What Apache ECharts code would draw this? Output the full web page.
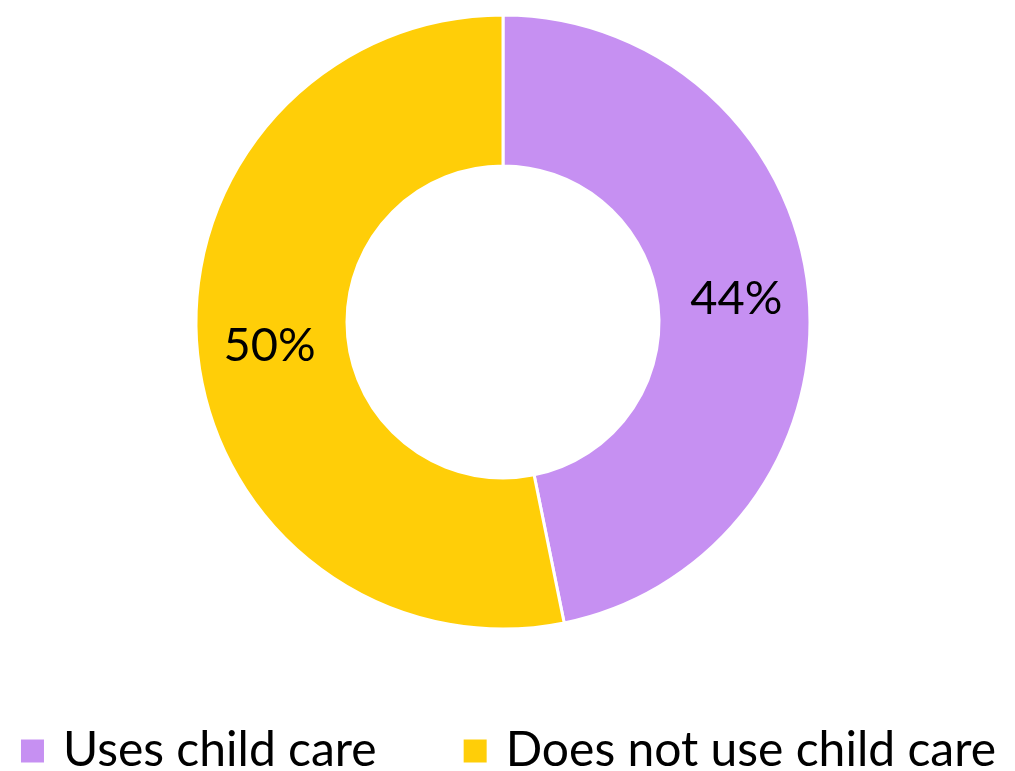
<!DOCTYPE html>
<html>
<head>
<meta charset="utf-8">
<script src="https://cdn.jsdelivr.net/npm/echarts@6/dist/echarts.min.js"></script>
<style>
  html, body { margin: 0; padding: 0; background: #fff; }
  #chart { width: 1015px; height: 771px; }
</style>
</head>
<body>
<div id="chart"></div>
<script>
// Share of respondents by child care use (percent)
const categories = ['Uses child care', 'Does not use child care'];
const shares = [44, 50];
const colors = ['#C690F2', '#FFCE08'];

const chart = echarts.init(document.getElementById('chart'));
chart.setOption({
  animation: false,
  color: colors,
  legend: {
    top: 722,
    left: 'center',
    itemWidth: 25,
    itemHeight: 25,
    itemGap: 85,
    icon: 'rect',
    textStyle: {
      fontFamily: 'Lato',
      fontSize: 48,
      lineHeight: 48,
      color: '#000',
      padding: [0, 0, 0, 13]
    },
    data: categories
  },
  series: [{
    type: 'pie',
    center: [503, 322],
    radius: [156, 307],
    startAngle: 90,
    clockwise: true,
    itemStyle: { borderColor: '#fff', borderWidth: 3 },
    label: {
      position: 'inside',
      formatter: '{c}%',
      fontFamily: 'Lato',
      fontSize: 47,
      color: '#000'
    },
    labelLine: { show: false },
    data: categories.map((name, i) => ({ name, value: shares[i] }))
  }]
});
</script>
</body>
</html>
